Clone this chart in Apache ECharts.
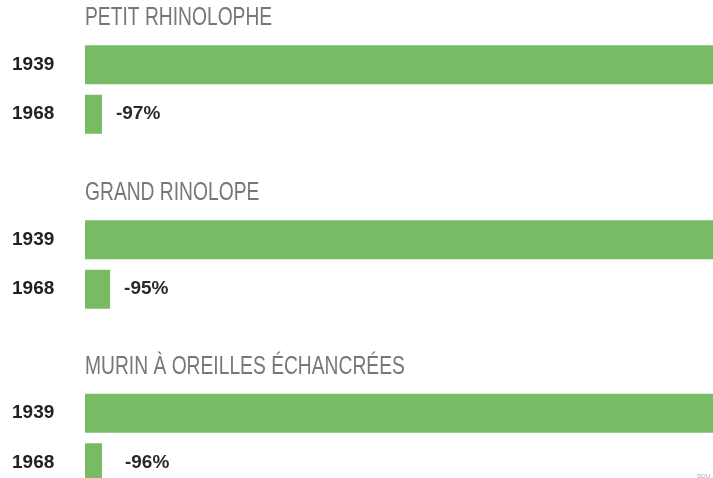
<!DOCTYPE html>
<html>
<head>
<meta charset="utf-8">
<script src="https://cdn.jsdelivr.net/npm/echarts@6/dist/echarts.min.js"></script>
<style>
  html, body { margin: 0; padding: 0; background: #fff; }
  #chart { width: 713px; height: 478px; }
</style>
</head>
<body>
<div id="chart"></div>
<script>
// species groups, top to bottom
const species = ['PETIT RHINOLOPHE', 'GRAND RINOLOPE', 'MURIN À OREILLES ÉCHANCRÉES']
const years = ['1939', '1968']
// 1939 taken as 100 (index), 1968
const values1939 = [100, 100, 100]
const values1968 = [2.7, 4.0, 2.7]
const changes = ['-97%', '-95%', '-96%']

const GREEN = '#79bb64'
const titleY = [18, 193, 367]
const gridTop = [40, 215, 388.5]
const labelGap = [14, 14, 23]

const grids = []
const xAxes = []
const yAxes = []
const series = []
const graphics = []

species.forEach((name, i) => {
  grids.push({ left: 85, right: 0, top: gridTop[i], height: 99, outerBoundsMode: 'none' })
  xAxes.push({ gridIndex: i, type: 'value', min: 0, max: 100, show: false })
  yAxes.push({
    gridIndex: i,
    type: 'category',
    data: years,
    inverse: true,
    axisLine: { show: false },
    axisTick: { show: false },
    axisLabel: {
      margin: 73,
      align: 'left',
      fontFamily: 'Liberation Sans',
      fontSize: 19,
      fontWeight: 'bold',
      color: '#222',
    },
  })
  series.push({
    type: 'bar',
    xAxisIndex: i,
    yAxisIndex: i,
    barWidth: 39,
    itemStyle: { color: GREEN },
    data: [
      { value: values1939[i] },
      {
        value: values1968[i],
        label: {
          show: true,
          position: 'right',
          distance: labelGap[i],
          formatter: changes[i],
          fontFamily: 'Liberation Sans',
          fontSize: 19,
          fontWeight: 'bold',
          color: '#2a2a2a',
        },
      },
    ],
  })
  graphics.push({
    type: 'text',
    x: 85,
    y: titleY[i],
    scaleX: 0.77,
    style: {
      text: name,
      fontFamily: 'Liberation Sans',
      fontSize: 25,
      fill: '#777',
      verticalAlign: 'middle',
    },
  })
})

graphics.push({
  type: 'text',
  x: 697,
  y: 476,
  style: { text: 'SOU', fontSize: 6, fill: '#9aa3ad', verticalAlign: 'middle' },
})

const c = echarts.init(document.getElementById('chart'))
c.setOption({
  animation: false,
  grid: grids,
  xAxis: xAxes,
  yAxis: yAxes,
  series,
  graphic: graphics,
})
</script>
</body>
</html>
